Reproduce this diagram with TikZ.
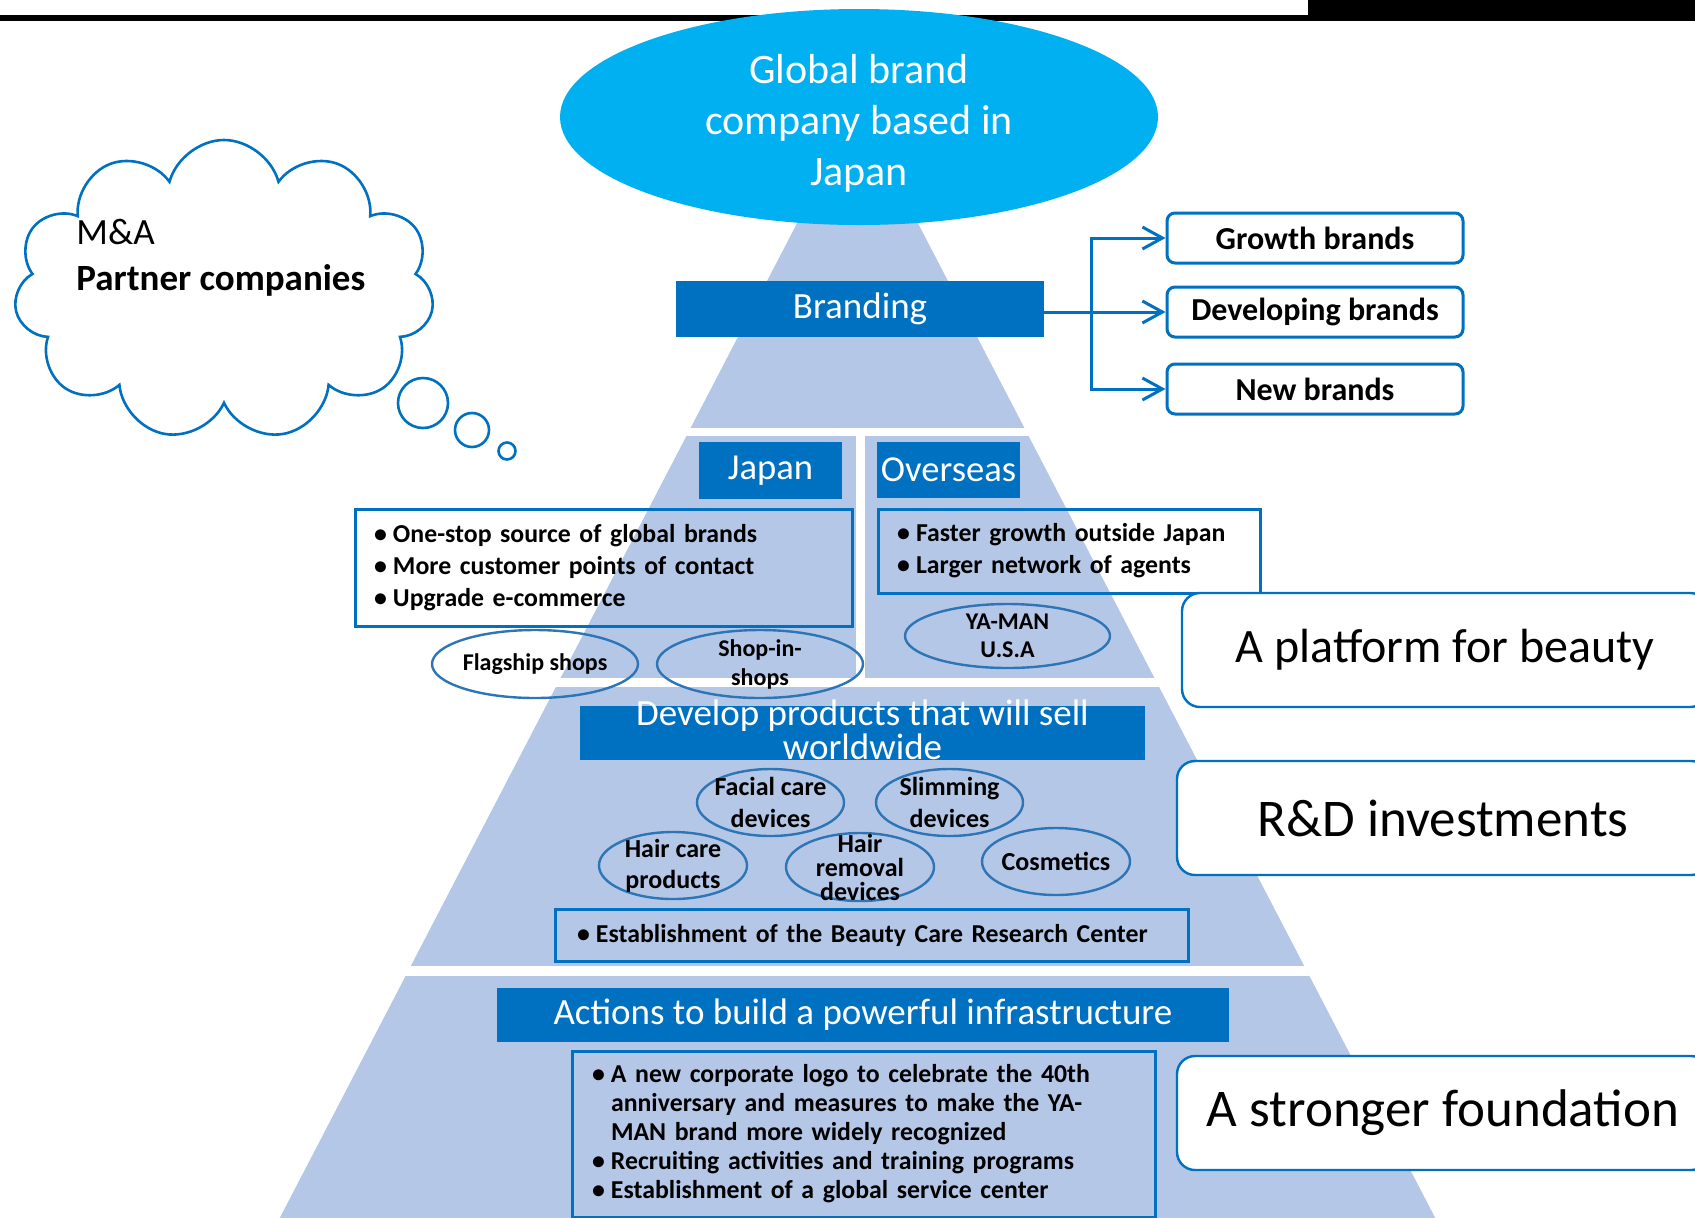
\documentclass[tikz,border=0pt]{standalone}
\usepackage{fontspec}
\setmainfont{Carlito}
\usetikzlibrary{shapes.geometric,shapes.symbols,arrows.meta}

\definecolor{deepblue}{HTML}{0070C0}
\definecolor{skyblue}{HTML}{00B0F0}
\definecolor{pyrblue}{HTML}{B4C7E7}
\definecolor{lineblue}{HTML}{2E75B6}

\newcommand{\itm}{\makebox[9.5pt][l]{\textbullet}}
\newcommand{\itmskip}{\hspace*{9.5pt}}

\begin{document}
\begin{tikzpicture}[x=0.5pt,y=-0.5pt,
	bar/.style={fill=deepblue, text=white, inner sep=0pt, align=center, font=\fontsize{18.5}{15}\selectfont},
	bartext/.style={text=white, inner sep=0pt, align=center, font=\fontsize{18.5}{14}\selectfont},
	listbox/.style={draw=deepblue, line width=1.5pt, inner xsep=9.5pt, inner ysep=0pt, align=left, font=\bfseries\fontsize{12.9}{16}\selectfont},
	oval/.style={ellipse, draw=lineblue, line width=1.2pt, inner sep=0pt},
	ovaltext/.style={inner sep=0pt, align=center, font=\bfseries\fontsize{13}{16}\selectfont},
	brandbox/.style={draw=deepblue, line width=1.5pt, rounded corners=4pt, fill=white, minimum width=148pt, minimum height=25pt, font=\bfseries\fontsize{16}{19}\selectfont},
	goalbox/.style={draw=deepblue, line width=1.2pt, rounded corners=9pt, fill=white, minimum height=57pt},
	arr/.style={draw=deepblue, line width=1.5pt, -{Straight Barb[length=10pt,width=11pt]}},
	gap/.style={fill=white}
	]
	\useasboundingbox (0,0) rectangle (1695,1217);
	\clip (0,0) rectangle (1695,1217);
	
	% black bars along the top
	\fill[black] (0,15) rectangle (1308,21);
	\fill[black] (1308,0) rectangle (1695,21);
	
	% pyramid and the white gaps between its layers
	\fill[pyrblue] (857.5,107) -- (1441.5,1230) -- (273.5,1230) -- cycle;
	\fill[gap] (250,428) rectangle (1460,436);
	\fill[gap] (250,678) rectangle (1460,687);
	\fill[gap] (250,966) rectangle (1460,976);
	\fill[gap] (856,436) rectangle (865,678);
	
	% top of the pyramid
	\node[ellipse, fill=skyblue, minimum width=299pt, minimum height=108pt, inner sep=0pt] (global) at (859,117) {};
	\node[text=white, align=center, inner sep=0pt, font=\fontsize{21}{25.5}\selectfont] (global-t) at (859,123)
		{Global brand\\company based in\\Japan};
	
	% branding and the three kinds of brands
	\node[bar, minimum width=184pt, minimum height=28pt] (brand) at (860,308.5) {Branding};
	\node[brandbox] (growth) at (1315,238) {Growth brands};
	\node[brandbox] (devb) at (1315,312) {Developing brands};
	\node[brandbox] (newb) at (1315,389) {New brands};
	\coordinate (split) at (1091,312);
	\draw[arr] (brand.east |- devb.west) -- (devb.west);
	\draw[arr] (split) |- (growth.west);
	\draw[arr] (split) |- (newb.west);
	
	% thought cloud
	\node[cloud, cloud puffs=11, cloud ignores aspect, draw=deepblue, line width=1.3pt,
		minimum width=210pt, minimum height=150pt, inner sep=0pt] (cloud) at (224,290) {};
	\node[anchor=west, align=left, inner sep=0pt, font=\fontsize{18.5}{23}\selectfont] (partner) at (76,258)
		{M\&A\\\textbf{Partner companies}};
	\node[circle, draw=deepblue, line width=1.3pt, minimum size=25pt, inner sep=0pt] (bub1) at (423,403) {};
	\node[circle, draw=deepblue, line width=1.3pt, minimum size=17pt, inner sep=0pt] (bub2) at (472,430) {};
	\node[circle, draw=deepblue, line width=1.3pt, minimum size=8.5pt, inner sep=0pt] (bub3) at (507,451) {};
	
	% Japan and overseas
	\node[bar, minimum width=71.5pt, minimum height=28.5pt, font=\fontsize{18.3}{22}\selectfont] (japan) at (770.5,470.5) {Japan};
	\node[bar, minimum width=71.5pt, minimum height=28pt, font=\fontsize{18.3}{22}\selectfont] (overseas) at (948.5,470) {Overseas};
	\node[listbox, text width=229.5pt, minimum height=58.5pt] (jplist) at (603.5,567.5)
		{\itm One-stop source of global brands\\
		 \itm More customer points of contact\\
		 \itm Upgrade e-commerce};
	\node[listbox, text width=172pt, minimum height=42pt] (oslist) at (1069,551)
		{\itm Faster growth outside Japan\\
		 \itm Larger network of agents};
	\node[oval, minimum width=103pt, minimum height=34pt] (flag) at (535,664) {};
	\node[ovaltext, font=\bfseries\fontsize{12}{14.5}\selectfont] (flag-t) at (flag) {Flagship shops};
	\node[oval, minimum width=103pt, minimum height=34pt] (shop) at (760,664) {};
	\node[ovaltext, font=\bfseries\fontsize{12}{14.5}\selectfont] (shop-t) at (shop) {Shop-in-\\shops};
	\node[oval, minimum width=102.5pt, minimum height=32pt] (yaman) at (1007.5,636) {};
	\node[ovaltext, font=\bfseries\fontsize{12}{14}\selectfont] (yaman-t) at (yaman) {YA-MAN\\U.S.A};
	
	% products
	\node[bar, minimum width=282.5pt, minimum height=27pt] (develop) at (862.5,733) {};
	\node[bartext] (develop-t) at (862.5,730) {Develop products that will sell\\worldwide};
	\node[oval, minimum width=73.5pt, minimum height=33.5pt] (facial) at (770.5,802.5) {};
	\node[ovaltext] (facial-t) at (facial) {Facial care\\devices};
	\node[oval, minimum width=73.5pt, minimum height=33.5pt] (slim) at (949.5,802.5) {};
	\node[ovaltext] (slim-t) at (slim) {Slimming\\devices};
	\node[oval, minimum width=74pt, minimum height=33.5pt] (haircare) at (673,865.5) {};
	\node[ovaltext, font=\bfseries\fontsize{13}{15.5}\selectfont] (haircare-t) at (haircare) {Hair care\\products};
	\node[oval, minimum width=74pt, minimum height=34pt] (hairrem) at (860,867) {};
	\node[ovaltext, font=\bfseries\fontsize{13}{12}\selectfont] (hairrem-t) at (hairrem) {Hair\\removal\\devices};
	\node[oval, minimum width=74pt, minimum height=33.5pt] (cosme) at (1056,861.5) {};
	\node[ovaltext] (cosme-t) at (cosme) {Cosmetics};
	\node[listbox, inner xsep=11pt, text width=294.5pt, minimum height=26pt] (research) at (871.5,935)
		{\itm Establishment of the Beauty Care Research Center};
	
	% infrastructure
	\node[bar, minimum width=366pt, minimum height=27pt] (infra) at (863,1015) {Actions to build a powerful infrastructure};
	\node[listbox, inner xsep=10pt, text width=271.5pt, minimum height=83pt, font=\bfseries\fontsize{12.9}{14.5}\selectfont] (inlist) at (863.5,1134)
		{\itm A new corporate logo to celebrate the 40th\\
		 \itmskip anniversary and measures to make the YA-\\
		 \itmskip MAN brand more widely recognized\\
		 \itm Recruiting activities and training programs\\
		 \itm Establishment of a global service center};
	
	% goals on the right
	\node[goalbox, minimum width=263pt, font=\fontsize{24}{28}\selectfont] (beauty) at (1445,650) {A platform for beauty};
	\node[goalbox, minimum width=266pt, font=\fontsize{26.5}{30}\selectfont] (rnd) at (1443,818) {R\&D investments};
	\node[goalbox, minimum width=266pt, font=\fontsize{26.5}{30}\selectfont] (found) at (1443,1113) {A stronger foundation};
\end{tikzpicture}
\end{document}
